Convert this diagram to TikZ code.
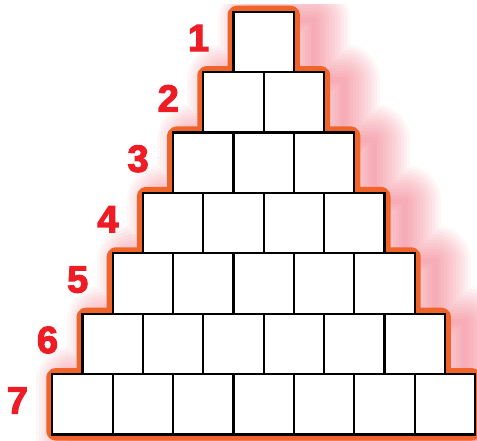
\documentclass[tikz,border=0pt]{standalone}
\usepackage{fontspec}
\setmainfont{Liberation Sans}
\newfontfamily\numfont{Liberation Sans Bold}[FakeBold=3]
\definecolor{orangeedge}{HTML}{F0642A}
\definecolor{numred}{HTML}{EE1D25}
\definecolor{glowc}{RGB}{238,80,100}
\tikzset{
  cell/.style={draw=black, line width=2.2pt, fill=white, minimum size=60.4pt, inner sep=0pt, outer sep=0pt},
  num/.style={text=numred, font=\fontsize{38}{38}\numfont, inner sep=0pt},
  glowline/.style={draw=glowc, line join=round, opacity=0.05},
  outline/.style={draw=orangeedge, line width=12pt, rounded corners=3pt, line join=round}
}
\begin{document}
\begin{tikzpicture}[x=1pt,y=-1pt]
\useasboundingbox (0,0) rectangle (477,441);
% pink glow
\begin{scope}[shift={(20,8)}]
\foreach \w in {72,66,60,54,48,42,36,30,24,18,12,6} {
  \draw[glowline, line width=\w pt] (233.5,11.7) -- (293.9,11.7) |- (324.1,72.1) |- (354.3,132.5) |- (384.5,192.9) |- (414.7,253.3) |- (444.9,313.7) |- (475.1,374.1) -- (475.1,434.5) -- (52.3,434.5) |- (82.5,374.1) |- (112.7,313.7) |- (142.9,253.3) |- (173.1,192.9) |- (203.3,132.5) |- (233.5,72.1) -- cycle;
}
\end{scope}
\fill[white] (0,0) rectangle (477,4);
% orange outline
\draw[outline, fill=white] (233.5,11.7) -- (293.9,11.7) |- (324.1,72.1) |- (354.3,132.5) |- (384.5,192.9) |- (414.7,253.3) |- (444.9,313.7) |- (475.1,374.1) -- (475.1,434.5) -- (52.3,434.5) |- (82.5,374.1) |- (112.7,313.7) |- (142.9,253.3) |- (173.1,192.9) |- (203.3,132.5) |- (233.5,72.1) -- cycle;
% squares
\foreach \k in {1,...,7} {
  \foreach \j in {1,...,\k} {
    \pgfmathsetmacro\cx{233.5-(\k-1)*30.2+(\j-0.5)*60.4}
    \pgfmathsetmacro\cy{11.7+(\k-1)*60.4+30.2}
    \node[cell] (r\k c\j) at (\cx,\cy) {};
  }
  \pgfmathsetmacro\nx{198.5-(\k-1)*30.2}
  \pgfmathsetmacro\ny{38+(\k-1)*60.4}
  \node[num] (n\k) at (\nx,\ny) {\k};
}
\end{tikzpicture}
\end{document}
